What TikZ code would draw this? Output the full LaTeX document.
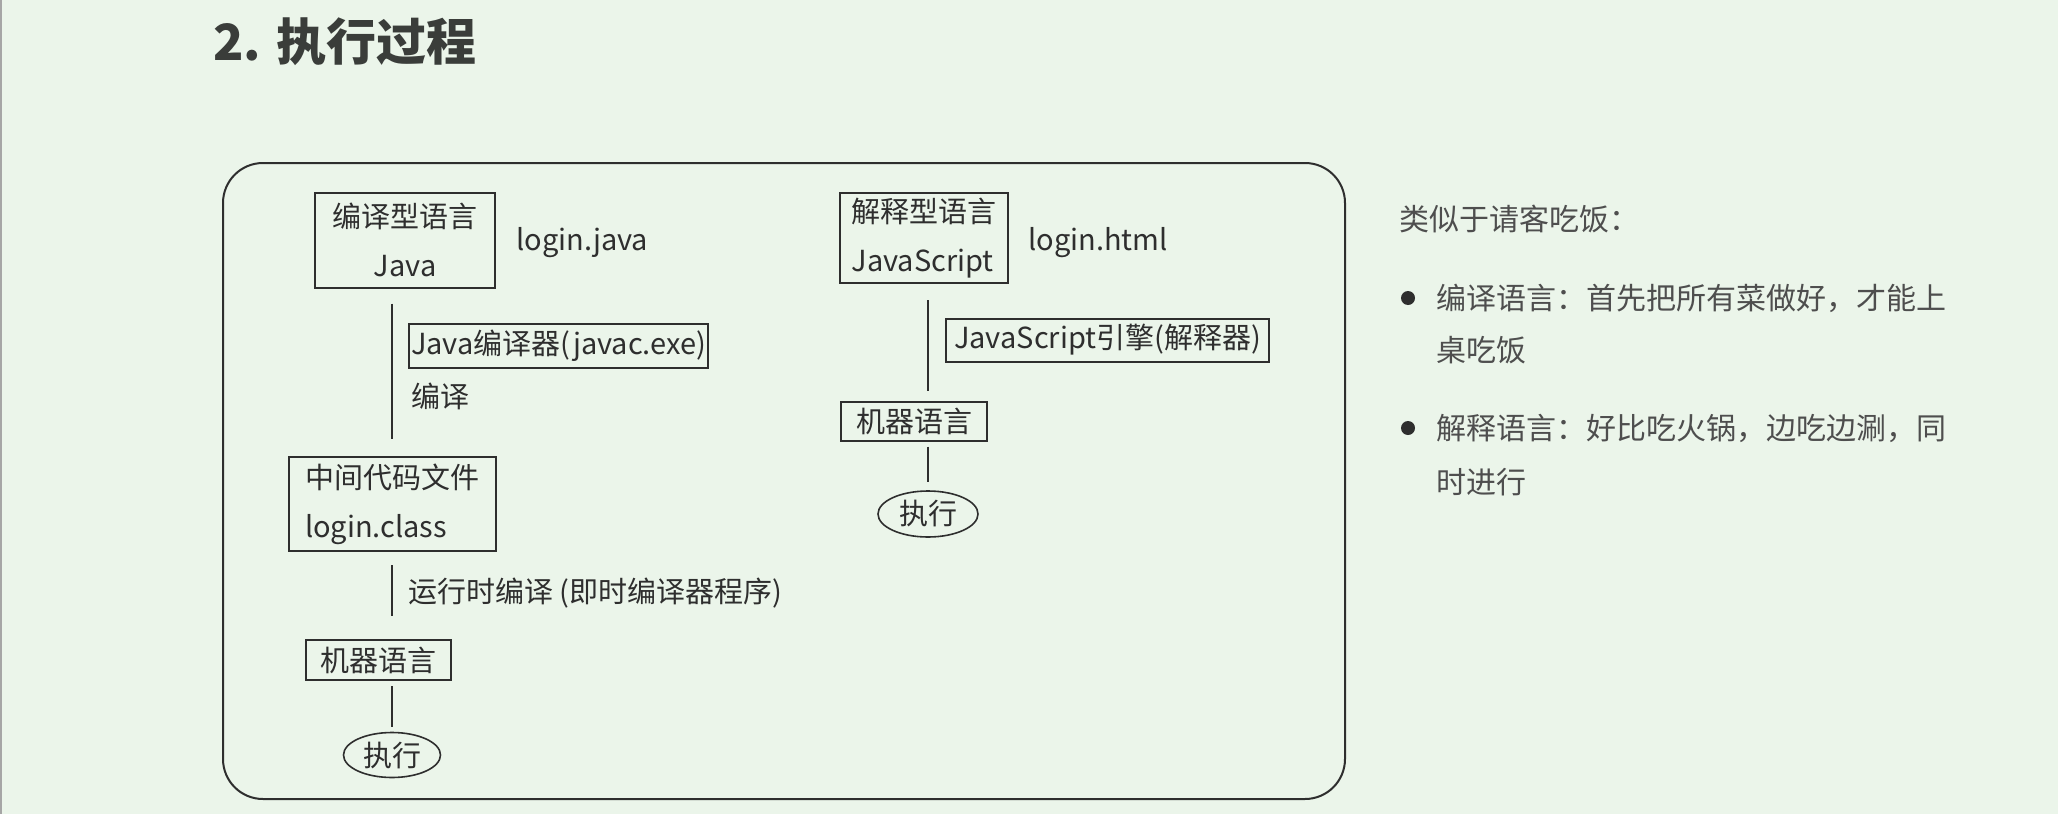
\documentclass[tikz,border=0pt]{standalone}
\usepackage{fontspec}
\setmainfont{Noto Sans CJK SC}
\usetikzlibrary{positioning,shapes.geometric}
\definecolor{slidebg}{HTML}{EBF5EA}
\definecolor{ink}{HTML}{2E2E2E}
\definecolor{note}{HTML}{4E4E4E}
\definecolor{headline}{HTML}{3A3D3A}

\begin{document}
\begin{tikzpicture}[
    x=0.5pt, y=-0.5pt,
    every node/.style={font=\fontsize{14.5}{24.5}\selectfont, text=ink},
    kasten/.style={rectangle, draw=ink, line width=1pt, inner xsep=4pt, inner ysep=0pt},
    oval/.style={ellipse, draw=ink, line width=0.8pt, inner sep=0pt},
    link/.style={draw=ink, line width=1pt},
    beschrift/.style={anchor=west, inner sep=0pt},
    notiz/.style={anchor=west, inner sep=0pt, text=note, font=\fontsize{15}{26}\selectfont},
    punkt/.style={circle, fill=ink, inner sep=0pt, minimum size=7pt}
    ]

\fill[slidebg] (0,0) rectangle (2058,814);
\useasboundingbox (0,0) rectangle (2058,814);
\draw[gray!70, line width=1pt] (0.5,0) -- (0.5,814);

% title
\node[anchor=west, inner sep=0pt, text=headline, font=\fontsize{25}{30}\selectfont\bfseries] (titel) at (213,42) {2. 执行过程};

% frame
\draw[ink, line width=1pt, rounded corners=20pt] (223,163) rectangle (1345,799);

% left column: compiled
\node[kasten, align=center, minimum width=90pt, minimum height=47.5pt] (jv) at (405,240) {编译型语言\\Java};
\node[beschrift] (jvdatei) at (516,243) {login.java};
\node[kasten, anchor=west, minimum width=142pt, minimum height=22pt, inner xsep=1pt] (javac) at (408,346) {Java编译器(javac.exe)};
\node[beschrift] (kompil) at (411,396) {编译};
\node[kasten, align=left, minimum width=103.5pt, minimum height=47pt] (mitte) at (392,504) {中间代码文件\\login.class};
\node[beschrift] (jit) at (408,593) {运行时编译 (即时编译器程序)};
\node[kasten, minimum width=72.5pt, minimum height=20pt] (mc1) at (378,660) {机器语言};
\node[oval, minimum width=48.5pt, minimum height=22.5pt] (exe1) at (392,755) {执行};

\draw[link, shorten <=7.5pt, shorten >=8.5pt] (jv.south -| exe1) -- (mitte.north -| exe1);
\draw[link, shorten <=6.5pt, shorten >=11.5pt] (mitte.south -| exe1) -- (mc1.north -| exe1);
\draw[link, shorten <=2.5pt, shorten >=2.25pt] (mc1.south -| exe1) -- (exe1.north);

% right column: interpreted
\node[kasten, align=left, minimum width=84pt, minimum height=45pt] (js) at (924,238) {解释型语言\\JavaScript};
\node[beschrift] (jsdatei) at (1028,243) {login.html};
\node[kasten, anchor=west, minimum width=161.5pt, minimum height=21.5pt, inner xsep=1pt] (engine) at (945,340) {JavaScript引擎(解释器)};
\node[kasten, minimum width=73pt, minimum height=19.5pt] (mc2) at (914,421) {机器语言};
\node[oval, minimum width=50pt, minimum height=23pt] (exe2) at (928,514) {执行};

\draw[link, shorten <=8pt, shorten >=5pt] (js.south -| exe2) -- (mc2.north -| exe2);
\draw[link, shorten <=2.5pt, shorten >=4pt] (mc2.south -| exe2) -- (exe2.north);

% notes
\node[notiz] (vergleich) at (1399,219) {类似于请客吃饭：};
\node[punkt] (p1) at (1408,298) {};
\node[notiz] (n1a) at (1436,298) {编译语言：首先把所有菜做好，才能上};
\node[notiz] (n1b) at (1436,350) {桌吃饭};
\node[punkt] (p2) at (1408,428) {};
\node[notiz] (n2a) at (1436,428) {解释语言：好比吃火锅，边吃边涮，同};
\node[notiz] (n2b) at (1436,482) {时进行};
\end{tikzpicture}
\end{document}
